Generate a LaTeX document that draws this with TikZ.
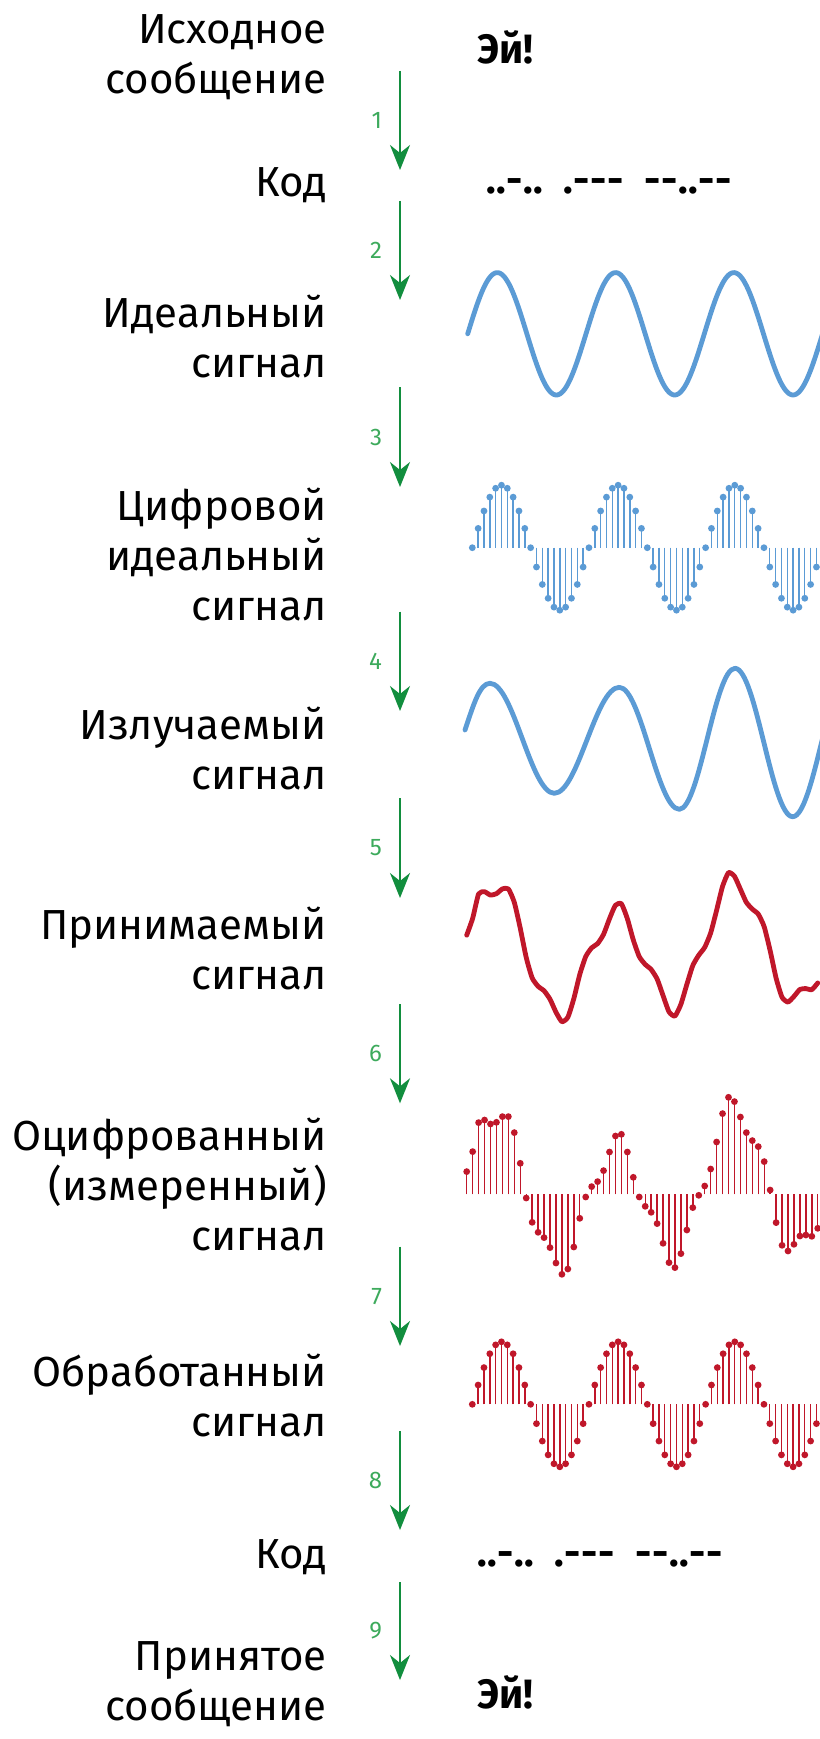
\documentclass[tikz,border=0pt]{standalone}
\usepackage{fontspec}
\setmainfont{Fira Sans}
\newfontfamily\morsefont{Fira Sans}[Ligatures=TeXOff]
\usetikzlibrary{arrows.meta}

\definecolor{sigblue}{HTML}{5B9BD5}
\definecolor{sigred}{HTML}{C0172A}
\definecolor{flowgreen}{HTML}{128E3E}
\definecolor{numgreen}{HTML}{3DAA5C}

% Morse symbols: one fixed-width box per character
\newcommand\mdt{\makebox[10pt]{.}}
\newcommand\mds{\makebox[17pt]{-}}
\newcommand\mgap{\hspace{20pt}}

% Sample values of the received signal (pixels above the axis)
\def\noisy{22.7,42.7,71.7,74.3,70.3,72,77.7,77.7,61.7,31,-3.7,-28,-38,-43.3,-53.3,-68.7,-80,-74.7,-52.7,-24,-2.7,7.7,12.7,23.7,42.3,58.3,60,42.3,17,-2.7,-12,-18,-29.3,-49,-68.3,-73.3,-59.3,-35.7,-13.3,-1,8.3,25.3,52.3,80.7,97,92.7,77.3,61.7,53.7,47.7,32.7,4.3,-28.3,-51,-56.7,-50,-41.7,-40.7,-42,-34}

\begin{document}
\begin{tikzpicture}[x=1pt,y=-1pt,
  steplabel/.style={font=\fontsize{42}{50}\selectfont, align=right, anchor=base east, inner sep=0pt},
  message/.style={font=\fontsize{41}{50}\selectfont\bfseries, anchor=base west, inner sep=0pt},
  morse/.style={font=\fontsize{40}{40}\selectfont\morsefont\bfseries, anchor=base west, inner sep=0pt},
  flow/.style={draw=flowgreen, line width=2pt, -{Stealth[length=25pt,width=20pt,inset=8pt]}},
  numlab/.style={font=\fontsize{24}{24}\selectfont, text=numgreen, anchor=east, inner sep=0pt, xshift=-17pt},
  bluewave/.style={draw=sigblue, line width=4.8pt, line cap=round, line join=round},
  redwave/.style={draw=sigred, line width=4.8pt, line cap=round, line join=round},
  bluestem/.style={draw=sigblue, line width=1.4pt},
  redstem/.style={draw=sigred, line width=1.4pt},
]
\useasboundingbox (0,0) rectangle (819,1739);
\fill[white] (0,0) rectangle (819,1739);

% ---- stage captions (anchored at the baseline of their last line) ----
\node[steplabel] (src)  at (327,93.5)  {Исходное\\сообщение};
\node[steplabel] (code1) at (327,196.7) {Код};
\node[steplabel] (ideal) at (327,377)  {Идеальный\\сигнал};
\node[steplabel] (dideal) at (327,620) {Цифровой\\идеальный\\сигнал};
\node[steplabel] (emit) at (327,789)   {Излучаемый\\сигнал};
\node[steplabel] (recv) at (327,989)   {Принимаемый\\сигнал};
\node[steplabel] (meas) at (327,1250) {Оцифрованный\\(измеренный)\\сигнал};
\node[steplabel] (proc) at (327,1436)  {Обработанный\\сигнал};
\node[steplabel] (code2) at (327,1568) {Код};
\node[steplabel] (dst)  at (327,1720)  {Принятое\\сообщение};

% ---- messages and Morse code ----
\node[message] (msg1) at (477,63.3) {Эй!};
\node[morse] (mc1) at (485.7,193.5) {\mdt\mdt\mds\mdt\mdt\mgap\mdt\mds\mds\mds\mgap\mds\mds\mdt\mdt\mds\mds};
\node[morse] (mc2) at (476.7,1566.5) {\mdt\mdt\mds\mdt\mdt\mgap\mdt\mds\mds\mds\mgap\mds\mds\mdt\mdt\mds\mds};
\node[message] (msg2) at (477,1708) {Эй!};

% ---- numbered processing steps ----
\foreach \k/\ys/\ye in {1/71/170, 2/201/300, 3/387/487, 4/611.7/711, 5/798/898, 6/1004/1103.3, 7/1246.7/1346, 8/1431/1530, 9/1582/1680} {
  \coordinate (s\k) at (400,\ys);
  \coordinate (e\k) at (400,\ye);
  \draw[flow] (s\k) -- node[numlab] {\k} (e\k);
}

% ---- ideal signal ----
\draw[bluewave] plot[domain=467.7:830, samples=240] (\x, {333.8-61.2*sin(3.0431*(\x-467.7))});

% ---- digital ideal signal ----
\foreach \i in {0,...,59} {
  \pgfmathsetmacro\px{472.3+5.833*\i}
  \pgfmathsetmacro\py{547.7-62.5*sin(18*\i)}
  \draw[bluestem] (\px,547.7) -- (\px,\py);
  \fill[sigblue] (\px,\py) circle[radius=3.4pt];
}

% ---- emitted signal ----
\draw[bluewave] (465,730) .. controls (474,703) and (480,683.3) .. (490,683.3)
  .. controls (513.4,683.3) and (530.9,793.3) .. (554.3,793.3)
  .. controls (578,793.3) and (595.6,687.3) .. (619.3,687.3)
  .. controls (641.1,687.3) and (657.5,809.3) .. (679.3,809.3)
  .. controls (699.6,809.3) and (714.7,668.3) .. (735,668.3)
  .. controls (756,668.3) and (771.7,816.7) .. (792.7,816.7)
  .. controls (813.6,816.7) and (829.1,670) .. (850,670);

% ---- received signal ----
\def\rxcoords{}
\foreach \v [count=\i from 0] in \noisy {
  \pgfmathsetmacro\px{466.7+5.95*\i}
  \pgfmathsetmacro\py{954.3-0.842*(\v)}
  \xdef\rxcoords{\rxcoords (\px,\py)}
}
\edef\drawrx{\noexpand\draw[redwave] plot[smooth, tension=0.35] coordinates {\rxcoords};}
\drawrx

% ---- digitised (measured) signal ----
\foreach \v [count=\i from 0] in \noisy {
  \pgfmathsetmacro\px{466.7+5.95*\i}
  \pgfmathsetmacro\py{1194.3-(\v)}
  \draw[redstem] (\px,1194.3) -- (\px,\py);
  \fill[sigred] (\px,\py) circle[radius=3.4pt];
}

% ---- processed signal ----
\foreach \i in {0,...,59} {
  \pgfmathsetmacro\px{472.3+5.833*\i}
  \pgfmathsetmacro\py{1404.3-62.5*sin(18*\i)}
  \draw[redstem] (\px,1404.3) -- (\px,\py);
  \fill[sigred] (\px,\py) circle[radius=3.4pt];
}
\end{tikzpicture}
\end{document}
